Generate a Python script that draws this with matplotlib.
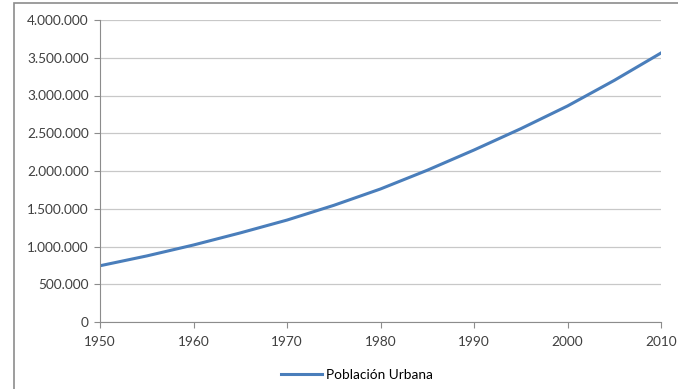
import matplotlib.pyplot as plt
from matplotlib.patches import Rectangle
from matplotlib.ticker import FuncFormatter

years = [1950, 1955, 1960, 1965, 1970, 1975, 1980, 1985, 1990, 1995, 2000, 2005, 2010]
urban_pop = [745000, 875000, 1020000, 1180000, 1350000, 1545000, 1762000, 2010000,
             2278000, 2560000, 2861000, 3200000, 3563000]

plt.rcParams['font.family'] = ['Lato', 'DejaVu Sans']


def thousands(v, pos):
    return f"{int(v):,}".replace(",", ".")


fig = plt.figure(figsize=(6.78, 3.89), dpi=100)
ax = fig.add_axes([100 / 678, 1 - 322 / 389, 561 / 678, 302 / 389])

ax.plot(years, urban_pop, color='#4a7ebb', linewidth=2.2, label='Población Urbana')

ax.set_xlim(1950, 2010)
ax.set_ylim(0, 4000000)
ax.set_xticks(range(1950, 2011, 10))
ax.set_yticks(range(0, 4000001, 500000))
ax.yaxis.set_major_formatter(FuncFormatter(thousands))
ax.grid(axis='y', color='#c8c8c8', linewidth=0.9)
ax.set_axisbelow(True)

for side in ['top', 'right']:
    ax.spines[side].set_visible(False)
for side in ['left', 'bottom']:
    ax.spines[side].set_color('#8c8c8c')
ax.tick_params(colors='#8c8c8c', labelcolor='#404040', labelsize=9.8, length=4)
ax.tick_params(axis='x', pad=6)
ax.tick_params(axis='y', pad=4)

ax.legend(loc='center', bbox_to_anchor=(0.458, -0.175), frameon=False, fontsize=9.8,
          handlelength=3.0, handletextpad=0.3)

# marco exterior
fig.patches.append(Rectangle((14 / 678, -0.05), 1.1, 1 - 3 / 389 + 0.05,
                             transform=fig.transFigure, fill=False,
                             edgecolor='#8c8c8c', linewidth=1.2))

fig.savefig('out.png', dpi=100)
